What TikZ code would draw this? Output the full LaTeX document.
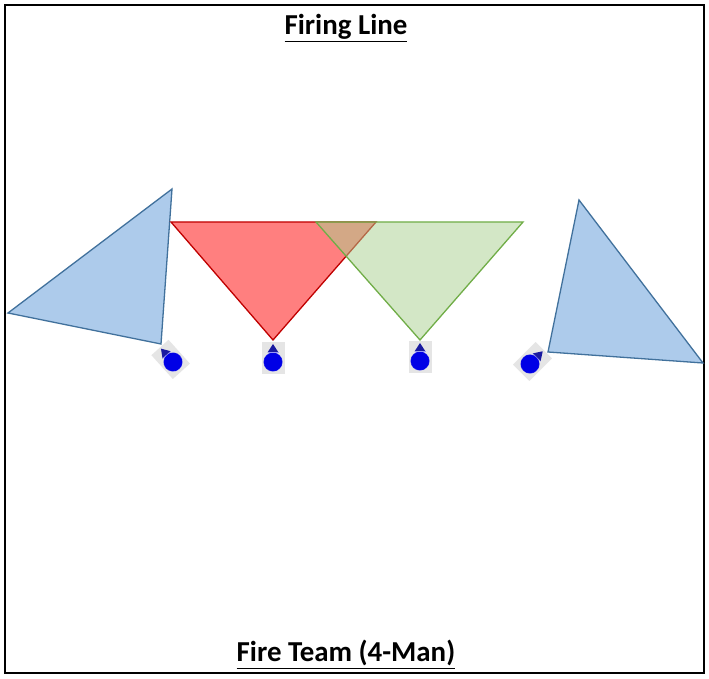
\documentclass[tikz,border=0pt]{standalone}
\usepackage{fontspec}
\setmainfont{Carlito}
\definecolor{bluefill}{HTML}{ADCBEB}
\definecolor{blueline}{HTML}{41719C}
\definecolor{redfill}{HTML}{FF7F7F}
\definecolor{redline}{HTML}{C00000}
\definecolor{greenfill}{HTML}{A9D18E}
\definecolor{greenline}{HTML}{70AD47}
\definecolor{manblue}{HTML}{0000E6}
\definecolor{tipblue}{HTML}{1A1AA0}
\tikzset{
  sector/.style={line width=1.3bp, line join=miter},
  title/.style={font=\fontsize{29}{33}\selectfont\bfseries, inner sep=0pt, anchor=base},
  pics/soldier/.style={code={
    \fill[black!10] (-11.5,-12.5) rectangle (11.5,19.5);
    \fill[manblue] (0,0) circle (9.5);
    \draw[white!70!manblue, densely dotted, line width=0.4bp] (0,0) circle (9.5);
    \fill[tipblue] (0,18) -- (-5.5,9.5) -- (5.5,9.5) -- cycle;
    \draw[white!60!manblue, line width=0.4bp] (-5.5,9.5) -- (5.5,9.5);
  }}
}
\begin{document}
\begin{tikzpicture}[x=1bp,y=1bp]
\useasboundingbox (0,0) rectangle (709,679);
\fill[white] (0,0) rectangle (709,679);
\draw[line width=1.5bp] (5,6) rectangle (704,674);
% fields of fire
\filldraw[sector, fill=bluefill, draw=blueline] (8,366) -- (172,490) -- (161,335) -- cycle;
\filldraw[sector, fill=redfill, draw=redline] (171,457) -- (376,457) -- (273,339) -- cycle;
\filldraw[sector, fill=greenfill, fill opacity=0.5, draw=greenline] (316,457) -- (523,457) -- (420,339) -- cycle;
\filldraw[sector, fill=bluefill, draw=blueline] (579,479) -- (703,316) -- (548,327) -- cycle;
% soldiers
\pic[rotate=42] at (173,317) {soldier};
\pic at (273,317) {soldier};
\pic at (420,318) {soldier};
\pic[rotate=-45] at (530,315) {soldier};
% titles
\node[title] (top) at (346,644) {\underline{Firing Line}};
\node[title] (bottom) at (346,17) {\underline{Fire Team (4-Man)}};
\end{tikzpicture}
\end{document}
